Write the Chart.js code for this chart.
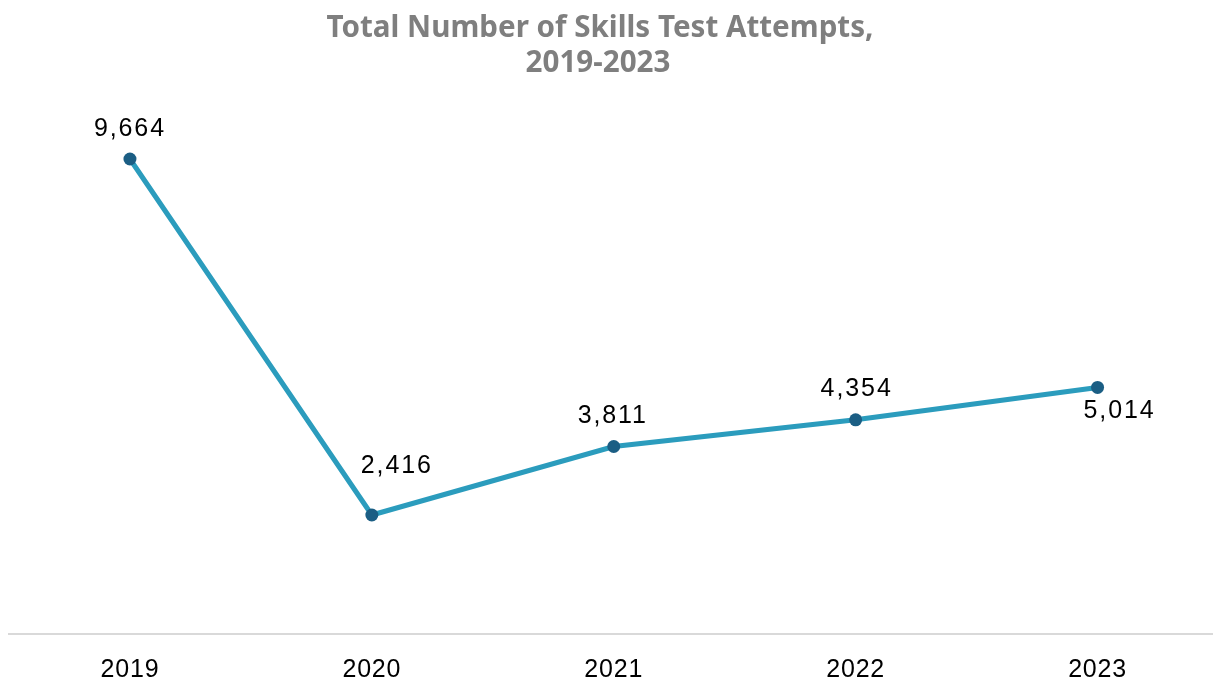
<!DOCTYPE html>
<html>
<head>
<meta charset="utf-8">
<script src="https://cdn.jsdelivr.net/npm/chart.js@4.4.1/dist/chart.umd.min.js"></script>
<style>
  html, body { margin: 0; padding: 0; background: #ffffff; overflow: hidden; }
  canvas { display: block; }
</style>
</head>
<body>
<canvas id="chart" width="1225" height="683"></canvas>
<script>
// Years shown on the horizontal axis
const years = ['2019', '2020', '2021', '2022', '2023'];
// Total skills test attempts per year
const attempts = [9664, 2416, 3811, 4354, 5014];
// Chart heading, one entry per line
const titleLines = ['Total Number of Skills Test Attempts,', '2019-2023'];

// Where each value label's centre sits relative to its point (dx, dy in px)
const labelOffsets = [[-1, -32], [24, -51], [-2, -33], [0, -33], [21, 22]];

const FONT = '"Liberation Sans", Arial, sans-serif';

const titlePlugin = {
  id: 'headline',
  beforeDraw(chart) {
    // slightly open tracking for the axis labels
    chart.ctx.letterSpacing = '0.8px';
  },
  afterDraw(chart) {
    const ctx = chart.ctx;
    ctx.save();
    ctx.letterSpacing = '0px';
    ctx.fillStyle = '#7f7f7f';
    ctx.font = 'bold 29.6px "Noto Sans", sans-serif';
    ctx.textAlign = 'center';
    ctx.textBaseline = 'alphabetic';
    ctx.fillText(titleLines[0], 600, 37);
    ctx.fillText(titleLines[1], 598, 72);
    ctx.restore();
  }
};

const valueLabels = {
  id: 'valueLabels',
  afterDatasetsDraw(chart) {
    const ctx = chart.ctx;
    const meta = chart.getDatasetMeta(0);
    ctx.save();
    ctx.letterSpacing = '1.9px';
    ctx.fillStyle = '#000000';
    ctx.font = '25px ' + FONT;
    ctx.textAlign = 'center';
    ctx.textBaseline = 'alphabetic';
    meta.data.forEach((pt, i) => {
      const v = chart.data.datasets[0].data[i];
      const [dx, dy] = labelOffsets[i];
      // digits are ~0.716em tall; place baseline so the glyphs centre on the target
      ctx.fillText(v.toLocaleString('en-US'), pt.x + dx + 1, pt.y + dy + 9);
    });
    ctx.restore();
  }
};

new Chart(document.getElementById('chart'), {
  type: 'line',
  data: {
    labels: years,
    datasets: [{
      data: attempts,
      borderColor: '#2b9cbd',
      borderWidth: 5,
      pointRadius: 6.5,
      pointBackgroundColor: '#1b5e84',
      pointBorderColor: '#1b5e84',
      pointBorderWidth: 0,
      tension: 0,
      clip: false
    }]
  },
  options: {
    responsive: false,
    animation: false,
    devicePixelRatio: 1,
    layout: { padding: { top: 142.5, left: 9, right: 0, bottom: 0 } },
    plugins: {
      legend: { display: false },
      title: { display: false },
      tooltip: { enabled: false }
    },
    scales: {
      x: {
        offset: true,
        grid: { display: false, drawTicks: false },
        border: { display: true, color: '#d9d9d9', width: 2 },
        ticks: {
          color: '#000000',
          font: { family: FONT, size: 25 },
          padding: 21
        },
        afterFit(scale) { scale.height = 49.3; }
      },
      y: {
        display: false,
        min: 0,
        max: 10000
      }
    }
  },
  plugins: [titlePlugin, valueLabels]
});
</script>
</body>
</html>
